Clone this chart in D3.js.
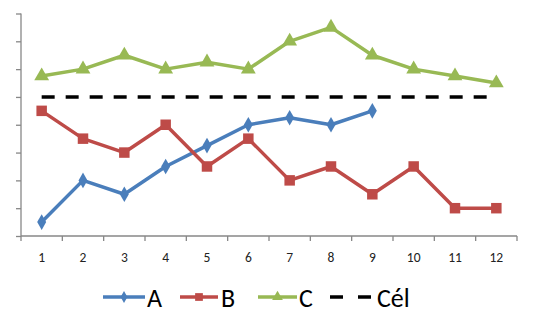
<!DOCTYPE html>
<html><head><meta charset="utf-8">
<script src="https://cdn.jsdelivr.net/npm/d3@7"></script>
<style>body{margin:0;background:#fff;}svg{display:block;}</style>
</head><body>
<svg id="c" width="534" height="332"></svg>
<script>
const categories = ["1","2","3","4","5","6","7","8","9","10","11","12"];
const seriesA = [0.5,2,1.5,2.5,3.25,4,4.25,4,4.5];
const seriesB = [4.5,3.5,3,4,2.5,3.5,2,2.5,1.5,2.5,1,1];
const seriesC = [5.75,6,6.5,6,6.25,6,7,7.5,6.5,6,5.75,5.5];
const target = [5,5,5,5,5,5,5,5,5,5,5,5];
const seriesNames = ["A","B","C","Cél"];
const yTicks = [0,1,2,3,4,5,6,7,8];

const svg = d3.select("#c");
const font = "Carlito, 'Open Sans', 'Liberation Sans', sans-serif";
const x = d3.scaleBand().domain(categories).range([21,517]);
const y = d3.scaleLinear().domain([0,8]).range([236,13.5]);
const cx = d => x(d) + x.bandwidth()/2;

// y axis
const ya = svg.append("g").attr("transform","translate(21,0)")
  .call(d3.axisLeft(y).tickValues(yTicks).tickSize(5).tickFormat(""));
ya.selectAll("path,line").attr("stroke","#878787").attr("stroke-width",1.3);
ya.select(".domain").attr("d","M0,13.5V236");

// x axis
const xa = svg.append("g").attr("transform","translate(0,236)");
xa.append("line").attr("x1",21).attr("x2",517).attr("stroke","#878787").attr("stroke-width",1.3);
const xt = categories.map((c,i)=>x(c)).concat([517]);
xa.selectAll("line.t").data(xt).enter().append("line").attr("class","t")
  .attr("x1",d=>d).attr("x2",d=>d).attr("y1",0).attr("y2",5).attr("stroke","#878787").attr("stroke-width",1.3);
xa.selectAll("text").data(categories).enter().append("text")
  .attr("x",d=>cx(d)).attr("y",25.5).attr("text-anchor","middle")
  .attr("font-family",font).attr("font-size",13.5).attr("fill","#222").text(d=>d);

const line = d3.line().x((d,i)=>cx(categories[i])).y(d=>y(d));

// target
svg.append("path").datum(target).attr("d",line).attr("fill","none")
  .attr("stroke","#000").attr("stroke-width",3.5).attr("stroke-dasharray","13,11");

const defs = [
  {data:seriesA,color:"#4A7EBB",marker:"diamond",size:70},
  {data:seriesB,color:"#BE4B48",marker:"square",size:110},
  {data:seriesC,color:"#98B954",marker:"triangle",size:95}
];
const symMap = {diamond:d3.symbolDiamond,square:d3.symbolSquare,triangle:d3.symbolTriangle};
defs.forEach(s=>{
  svg.append("path").datum(s.data).attr("d",line).attr("fill","none")
    .attr("stroke",s.color).attr("stroke-width",3.5).attr("stroke-linejoin","round");
  svg.selectAll(null).data(s.data).enter().append("path")
    .attr("transform",(d,i)=>`translate(${cx(categories[i])},${y(d)})`)
    .attr("d",d3.symbol().type(symMap[s.marker]).size(s.size)).attr("fill",s.color);
});

// legend
const leg = [
  {name:seriesNames[0],x1:103,x2:145,tx:147,color:"#4A7EBB",marker:"diamond",size:40},
  {name:seriesNames[1],x1:180,x2:218,tx:221,color:"#BE4B48",marker:"square",size:60},
  {name:seriesNames[2],x1:258,x2:297,tx:299,color:"#98B954",marker:"triangle",size:50},
  {name:seriesNames[3],x1:330,x2:372,tx:377,color:"#000",marker:null}
];
const ly = 297;
leg.forEach(l=>{
  const g = svg.append("g");
  g.append("line").attr("x1",l.x1).attr("x2",l.x2).attr("y1",ly).attr("y2",ly)
    .attr("stroke",l.color).attr("stroke-width",3.5)
    .attr("stroke-dasharray",l.marker?null:"13,15");
  if(l.marker) g.append("path").attr("transform",`translate(${(l.x1+l.x2)/2},${ly})`)
    .attr("d",d3.symbol().type(symMap[l.marker]).size(l.size)).attr("fill",l.color);
  g.append("text").attr("x",l.tx).attr("y",ly+9.5).attr("font-family",font)
    .attr("font-size",26).attr("fill","#000").text(l.name);
});
</script>
</body></html>
